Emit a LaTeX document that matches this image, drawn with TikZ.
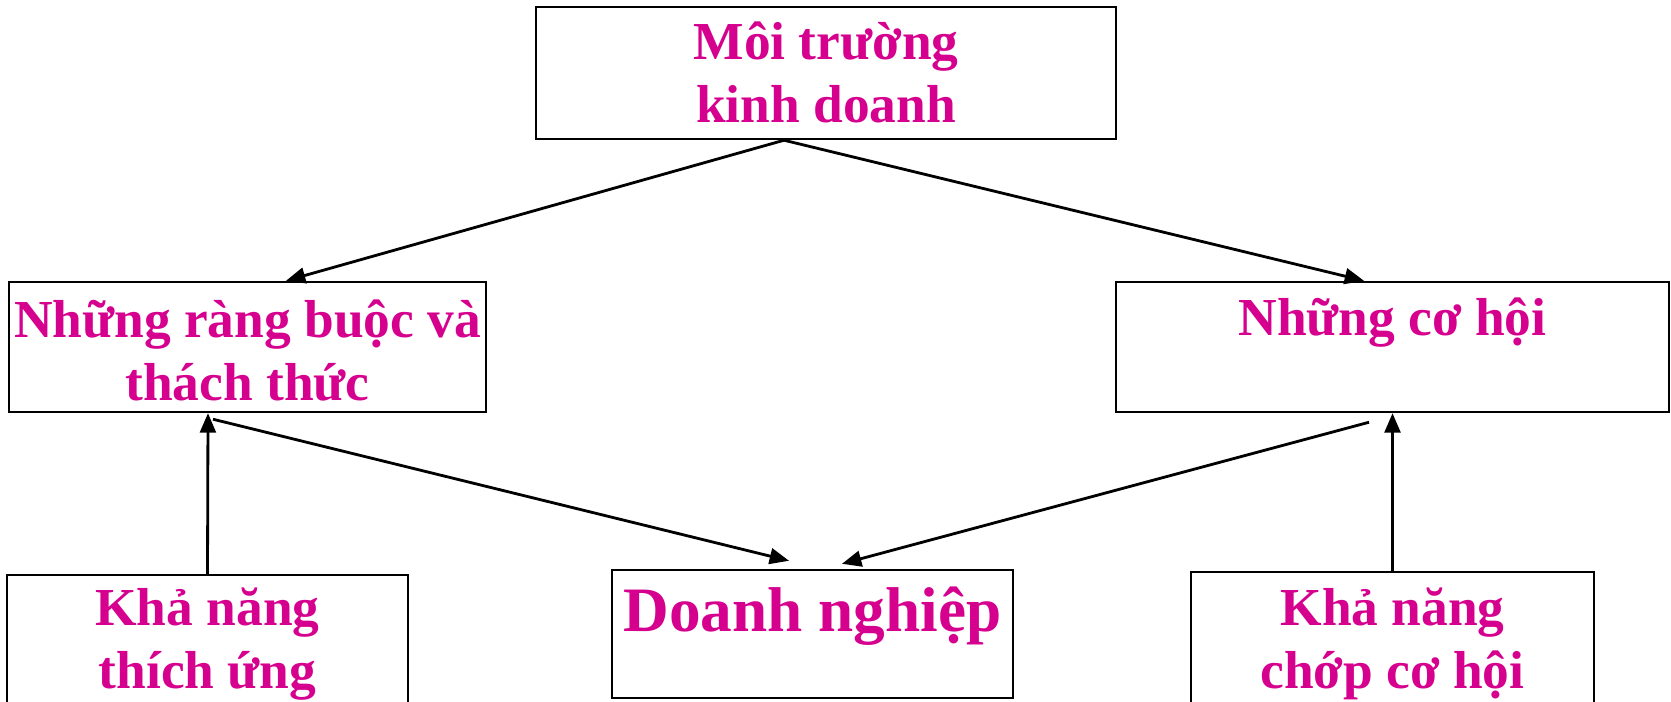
\documentclass[tikz,border=0pt]{standalone}
\usepackage{fontspec}
\setmainfont{Liberation Serif}
\usetikzlibrary{arrows.meta}
\definecolor{hong}{RGB}{214,0,143}
\tikzset{
  khung/.style={draw=black, line width=0.7pt, fill=none, inner sep=0pt},
  chu/.style={text=hong, font=\fontsize{15.2}{17.8}\selectfont\bfseries, align=center, inner sep=0pt},
  muiten/.style={-{Triangle[length=5.5pt,width=4.5pt]}, line width=0.8pt},
}
\begin{document}
\begin{tikzpicture}[x=0.1mm,y=-0.1mm]
\path[use as bounding box, clip] (0,0) rectangle (1671,701);
% cac khung
\node [khung, minimum width=58mm, minimum height=13.2mm] (moitruong) at (826,73) {};
\node [khung, minimum width=47.7mm, minimum height=13mm] (rangbuoc) at (247.5,347) {};
\node [khung, minimum width=55.3mm, minimum height=13mm] (cohoi) at (1392.5,347) {};
\node [khung, minimum width=40.1mm, minimum height=15.5mm] (thichung) at (207.5,652.5) {};
\node [khung, minimum width=40.1mm, minimum height=12.8mm] (doanhnghiep) at (812.5,634) {};
\node [khung, minimum width=40.3mm, minimum height=15.8mm] (chopcohoi) at (1392.5,651) {};
% chu
\node [chu, anchor=base] (tmoitruong) at (826,122) {Môi trường\\kinh doanh};
\node [chu, anchor=base] (trangbuoc) at (247.5,400) {Những ràng buộc và\\thách thức};
\node [chu, anchor=base] (tcohoi) at (1392.5,335) {Những cơ hội};
\node [chu, anchor=base] (tthichung) at (207.5,688) {Khả năng\\thích ứng};
\node [chu, anchor=base, font=\fontsize{18}{20}\selectfont\bfseries] (tdoanhnghiep) at (812.5,631) {Doanh nghiệp};
\node [chu, anchor=base] (tchopcohoi) at (1392.5,688) {Khả năng\\chớp cơ hội};
% mui ten
\draw [muiten] ([xshift=-4.2mm]moitruong.south) -- ([xshift=3.85mm]rangbuoc.north);
\draw [muiten] ([xshift=-4.2mm]moitruong.south) -- ([xshift=-2.85mm]cohoi.north);
\draw [muiten] (thichung.north) -- ([xshift=-3.95mm]rangbuoc.south);
\draw [muiten] ([xshift=-3.45mm,yshift=-0.6mm]rangbuoc.south) -- ([xshift=-2.35mm,yshift=0.8mm]doanhnghiep.north);
\draw [muiten] ([xshift=-2.35mm,yshift=-0.9mm]cohoi.south) -- ([xshift=2.95mm,yshift=0.5mm]doanhnghiep.north);
\draw [muiten] (chopcohoi.north) -- (cohoi.south);
\end{tikzpicture}
\end{document}
